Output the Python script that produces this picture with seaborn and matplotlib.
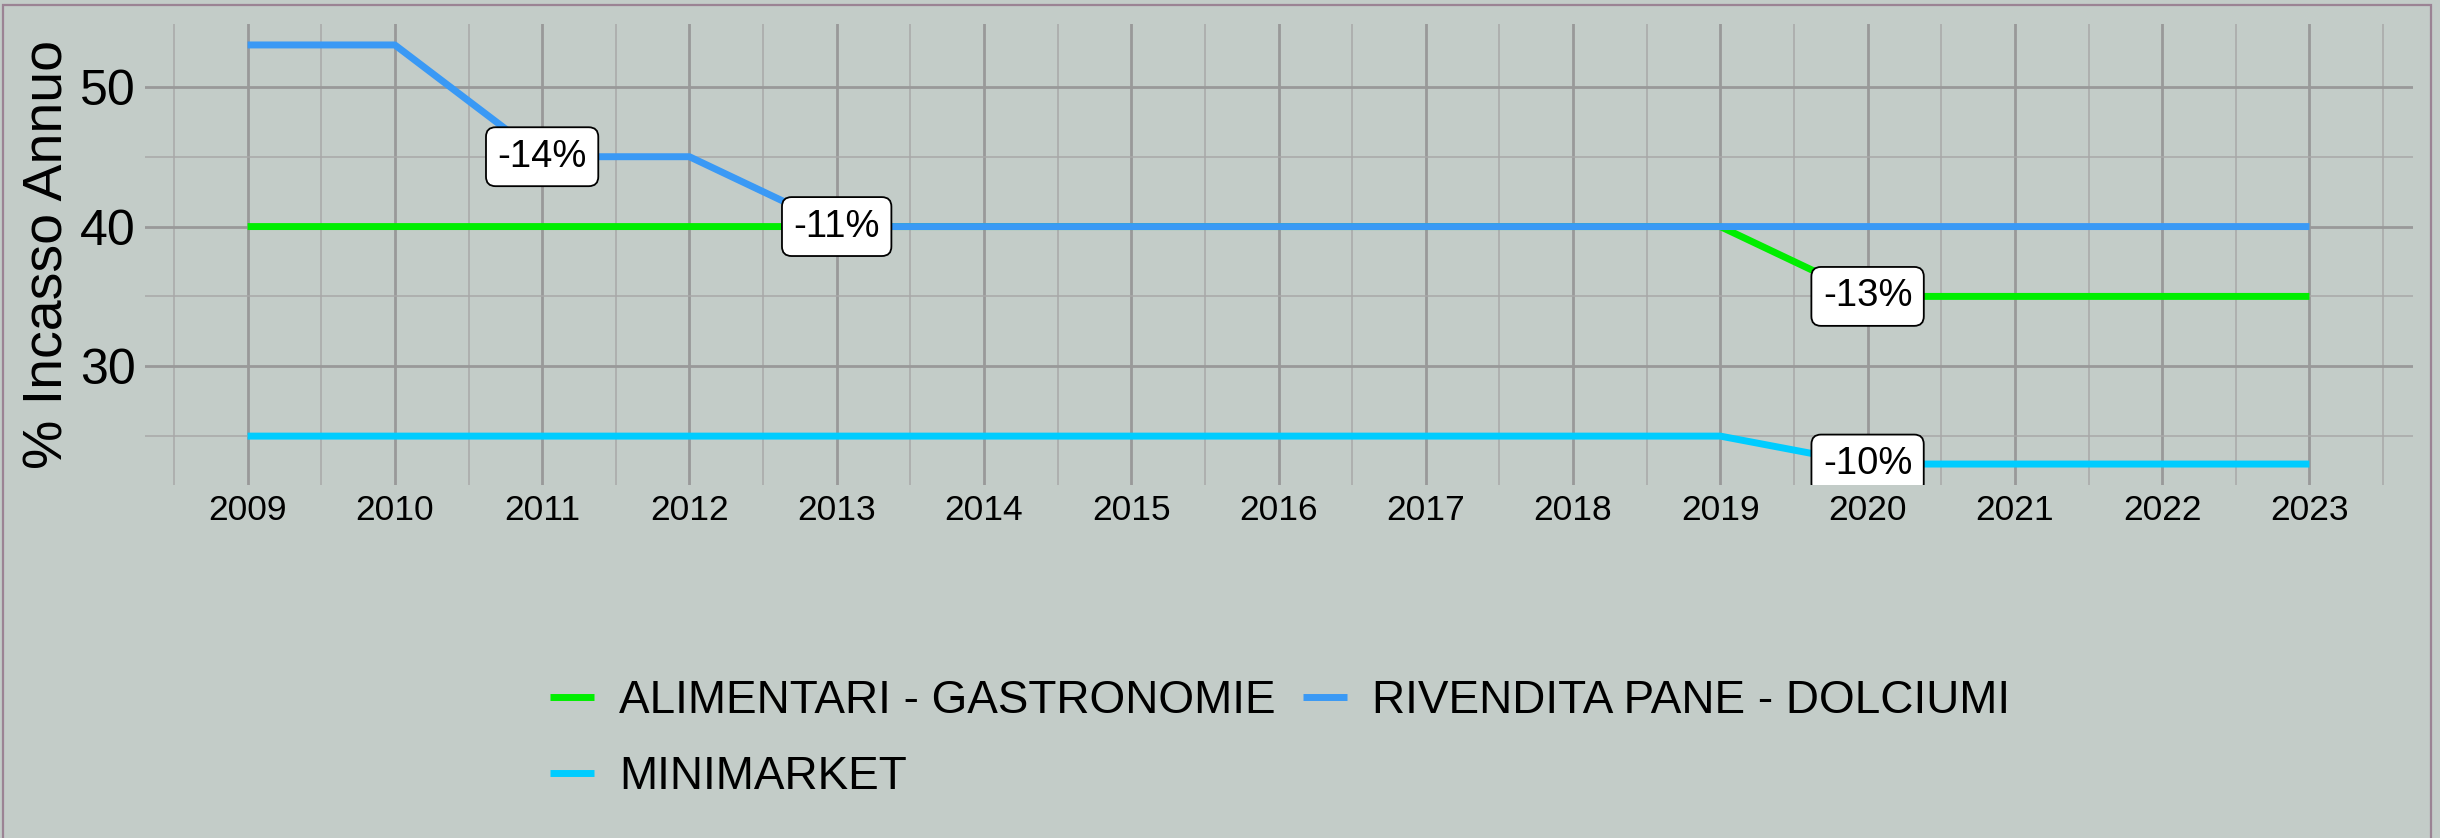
import numpy as np
import pandas as pd
import matplotlib
matplotlib.use("Agg")
import matplotlib.pyplot as plt
from matplotlib.ticker import MultipleLocator, AutoMinorLocator
from matplotlib.patches import Rectangle
import seaborn as sns

# ---------------- data ----------------
years = list(range(2009, 2024))
categories = ["ALIMENTARI - GASTRONOMIE", "MINIMARKET", "RIVENDITA PANE - DOLCIUMI"]
alimentari = [40, 40, 40, 40, 40, 40, 40, 40, 40, 40, 40, 35, 35, 35, 35]
minimarket = [25, 25, 25, 25, 25, 25, 25, 25, 25, 25, 25, 23, 23, 23, 23]
rivendita = [53, 53, 45, 45, 40, 40, 40, 40, 40, 40, 40, 40, 40, 40, 40]
colors = ["#00EE00", "#00CCFF", "#3A99F5"]

label_years = [2011, 2013, 2020, 2020]
label_values = [45, 40, 35, 23]
label_texts = ["-14%", "-11%", "-13%", "-10%"]

ylabel = "% Incasso Annuo"

# ---------------- build table ----------------
df = pd.DataFrame({
    "anno": years * 3,
    "valore": alimentari + minimarket + rivendita,
    "categoria": [categories[0]] * len(years) + [categories[1]] * len(years) + [categories[2]] * len(years),
})

bg = "#C3CCC8"
W, H = 2440, 838
fig = plt.figure(figsize=(W / 100, H / 100), dpi=100, facecolor=bg)
plt.rcParams["font.family"] = ["Liberation Sans", "DejaVu Sans"]

ax = fig.add_axes([144.5 / W, 1 - 485 / H, 2268 / W, 461 / H])
ax.set_facecolor(bg)

sns.lineplot(data=df, x="anno", y="valore", hue="categoria", hue_order=categories,
             palette=colors, linewidth=5, ax=ax, legend=True,
             solid_capstyle="butt", solid_joinstyle="round")

# ggplot-like expansion
xmin, xmax = min(years), max(years)
vals = alimentari + minimarket + rivendita
ymin, ymax = min(vals), max(vals)
ax.set_xlim(xmin - 0.05 * (xmax - xmin), xmax + 0.05 * (xmax - xmin))
ax.set_ylim(ymin - 0.05 * (ymax - ymin), ymax + 0.05 * (ymax - ymin))

ax.set_xticks(years)
ax.set_xticklabels([str(y) for y in years])
ax.yaxis.set_major_locator(MultipleLocator(10))
ax.xaxis.set_minor_locator(AutoMinorLocator(2))
ax.yaxis.set_minor_locator(AutoMinorLocator(2))

ax.grid(which="major", color="#999999", linewidth=2.0)
ax.grid(which="minor", color="#A8A8A8", linewidth=1.1)
ax.set_axisbelow(True)
for s in ax.spines.values():
    s.set_visible(False)

ax.tick_params(axis="both", which="both", length=0)
ax.tick_params(axis="y", which="major", labelsize=36, pad=6.5, colors="black")
ax.tick_params(axis="x", which="major", labelsize=25.5, pad=6.5, colors="black")

ax.set_xlabel("")
ax.set_ylabel(ylabel, fontsize=40, color="black")
ax.yaxis.set_label_coords((75 - 144.5) / 2268, 0.5)

# labels
for x, y, t in zip(label_years, label_values, label_texts):
    ax.text(x, y, t, fontsize=27.5, ha="center", va="center", zorder=5, clip_on=True,
            bbox=dict(boxstyle="round,pad=0.3,rounding_size=0.25", facecolor="white",
                      edgecolor="black", linewidth=1.3))

# legend
handles, labels = ax.get_legend_handles_labels()
ax.get_legend().remove()
leg = fig.legend(handles, labels, loc="center", bbox_to_anchor=(1280 / W, 1 - 739 / H),
                 ncol=2, frameon=False, fontsize=33, handlelength=0.95,
                 handletextpad=0.55, columnspacing=0.6, labelspacing=0.68)
for h in leg.legend_handles:
    h.set_linewidth(5)
    h.set_solid_capstyle("butt")

# outer border
fig.add_artist(Rectangle((3 / W, -0.02), (2431 - 3) / W, (H - 5) / H + 0.02,
                         transform=fig.transFigure, fill=False,
                         edgecolor="#9B8394", linewidth=1.6))

fig.savefig("out.png", dpi=100, facecolor=bg)
